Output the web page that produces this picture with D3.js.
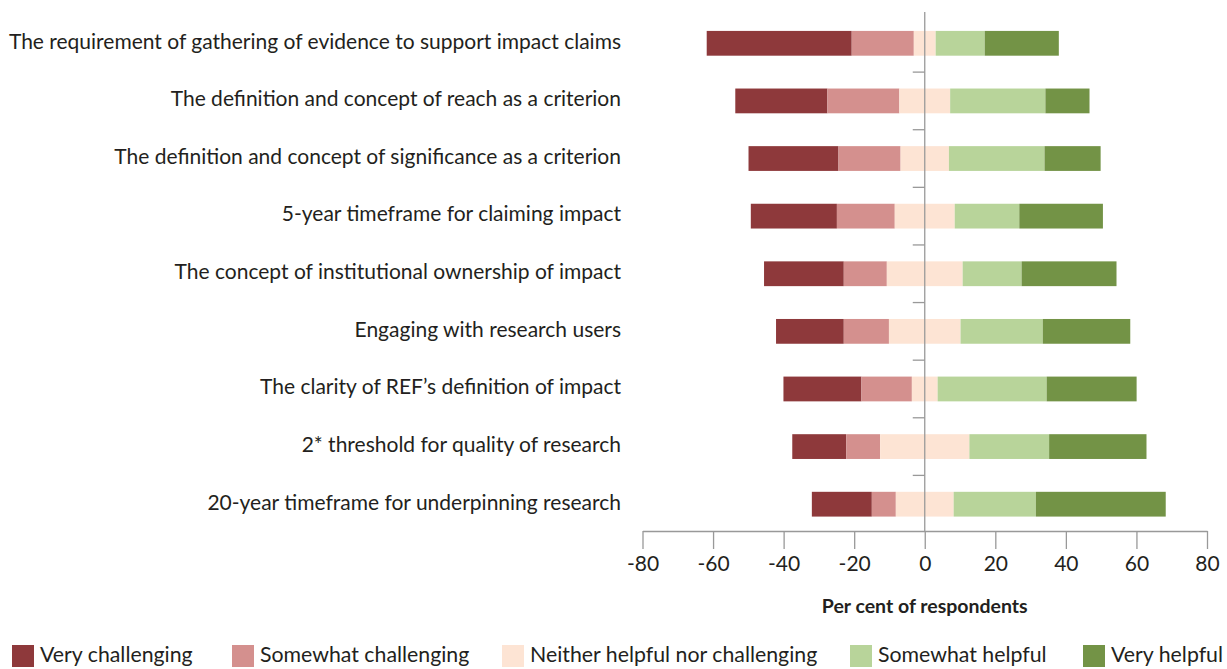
<!DOCTYPE html>
<html>
<head>
<meta charset="utf-8">
<script src="https://cdn.jsdelivr.net/npm/d3@7"></script>
<style>
  html, body { margin: 0; padding: 0; background: #fff; }
  svg { display: block; font-family: "Lato", "Open Sans", sans-serif; }
</style>
</head>
<body>
<svg id="chart" width="1227" height="669"></svg>
<script>
const categories = [
  "The requirement of gathering of evidence to support impact claims",
  "The definition and concept of reach as a criterion",
  "The definition and concept of significance as a criterion",
  "5-year timeframe for claiming impact",
  "The concept of institutional ownership of impact",
  "Engaging with research users",
  "The clarity of REF\u2019s definition of impact",
  "2* threshold for quality of research",
  "20-year timeframe for underpinning research"
];
const seriesNames = ["Very challenging", "Somewhat challenging", "Neither helpful nor challenging", "Somewhat helpful", "Very helpful"];
const veryChallenging     = [41.1, 26.1, 25.5, 24.4, 22.6, 19.2, 22.1, 15.3, 17.0];
const somewhatChallenging = [17.6, 20.4, 17.6, 16.4, 12.2, 12.8, 14.3,  9.6,  6.8];
const neither             = [ 6.2, 14.4, 13.7, 17.0, 21.5, 20.3,  7.3, 25.3, 16.4];
const somewhatHelpful     = [13.9, 27.0, 27.1, 18.3, 16.7, 23.3, 30.9, 22.6, 23.3];
const veryHelpful         = [21.0, 12.5, 15.9, 23.7, 26.9, 24.8, 25.5, 27.6, 36.8];
const xTicks = [-80, -60, -40, -20, 0, 20, 40, 60, 80];
const xTitle = "Per cent of respondents";
const colors = ["#8e393b", "#d4908e", "#fde4d4", "#b8d49a", "#739346"];

const series = [veryChallenging, somewhatChallenging, neither, somewhatHelpful, veryHelpful];

const svg = d3.select("#chart");
const x = d3.scaleLinear().domain([-80, 80]).range([642.5, 1207]);
const y = d3.scaleBand().domain(categories).range([14.5, 533]).paddingInner(0.57).paddingOuter(0.285);
const axisY = 531;
const textColor = "#231f20";
const axisColor = "#999999";

// build diverging stacks
const rows = categories.map((c, i) => {
  let start = -(series[0][i] + series[1][i] + series[2][i] / 2);
  const segs = [];
  series.forEach((s, k) => {
    segs.push({ cat: c, k, x0: start, x1: start + s[i] });
    start += s[i];
  });
  return segs;
});

svg.append("g").selectAll("g").data(rows).join("g")
  .selectAll("rect").data(d => d).join("rect")
  .attr("x", d => x(d.x0))
  .attr("width", d => x(d.x1) - x(d.x0))
  .attr("y", d => y(d.cat))
  .attr("height", y.bandwidth())
  .attr("fill", d => colors[d.k]);

// vertical zero axis
svg.append("line")
  .attr("x1", x(0)).attr("x2", x(0))
  .attr("y1", 12).attr("y2", axisY)
  .attr("stroke", axisColor).attr("stroke-width", 1.3);

// category tick marks between bands
const mids = categories.slice(0, -1).map((c, i) => (y(c) + y(categories[i + 1]) + y.bandwidth()) / 2);
svg.append("g").selectAll("line").data(mids).join("line")
  .attr("x1", x(0) - 12).attr("x2", x(0))
  .attr("y1", d => d).attr("y2", d => d)
  .attr("stroke", axisColor).attr("stroke-width", 1.3);

// category labels
svg.append("g").selectAll("text").data(categories).join("text")
  .attr("x", 621)
  .attr("y", d => y(d) + y.bandwidth() / 2 - 2)
  .attr("dy", "0.35em")
  .attr("text-anchor", "end")
  .attr("font-size", 21)
  .attr("fill", textColor)
  .text(d => d);

// bottom axis
const xAxis = d3.axisBottom(x).tickValues(xTicks).tickSize(18).tickSizeOuter(0).tickPadding(7).tickFormat(d => String(d));
const gx = svg.append("g").attr("transform", `translate(0,${axisY})`).call(xAxis);
gx.select(".domain").attr("stroke", axisColor).attr("stroke-width", 1.3);
gx.selectAll(".tick line").attr("stroke", axisColor).attr("stroke-width", 1.3);
gx.selectAll(".tick text").attr("font-size", 21).attr("fill", textColor)
  .attr("font-family", "Lato, 'Open Sans', sans-serif");

svg.append("text")
  .attr("x", x(0)).attr("y", 613)
  .attr("text-anchor", "middle")
  .attr("font-size", 19.5).attr("font-weight", "bold")
  .attr("fill", textColor)
  .text(xTitle);

// legend
const legendX = [12, 232, 502, 850, 1083];
const lg = svg.append("g").selectAll("g").data(seriesNames).join("g")
  .attr("transform", (d, i) => `translate(${legendX[i]},645)`);
lg.append("rect").attr("width", 22).attr("height", 22).attr("fill", (d, i) => colors[i]);
lg.append("text").attr("x", 28).attr("y", 10).attr("dy", "0.35em")
  .attr("font-size", 21.3).attr("fill", textColor).text(d => d);
</script>
</body>
</html>
